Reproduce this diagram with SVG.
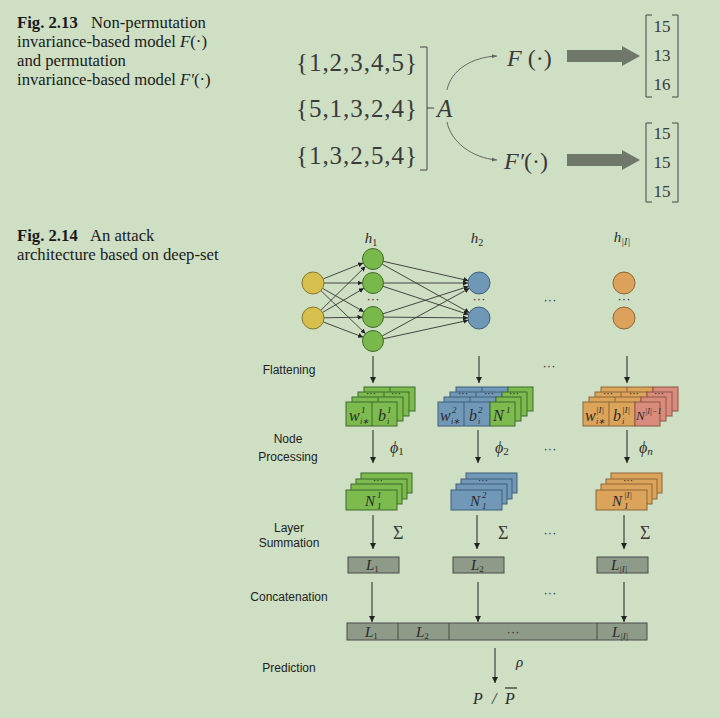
<svg xmlns="http://www.w3.org/2000/svg" width="720" height="718" viewBox="0 0 720 718">
<defs>
<marker id="ah" viewBox="0 0 10 10" refX="10" refY="5" markerWidth="5" markerHeight="5" orient="auto" markerUnits="userSpaceOnUse"><path d="M0,0 L10,5 L0,10 z" fill="#222"/></marker>
<marker id="av" viewBox="0 0 10 10" refX="10" refY="5" markerWidth="7" markerHeight="6" orient="auto" markerUnits="userSpaceOnUse"><path d="M0,0 L10,5 L0,10 z" fill="#222"/></marker>
<marker id="ac" viewBox="0 0 10 10" refX="10" refY="5" markerWidth="6" markerHeight="5" orient="auto" markerUnits="userSpaceOnUse"><path d="M0,1 L10,5 L0,9 z" fill="#666"/></marker>
</defs>
<style>
.cap{font-family:"Liberation Serif",serif;font-size:16.7px;fill:#1a1a1a}
.b{font-weight:bold}
.m{font-family:"Liberation Serif",serif;fill:#3a3a3a}
.i{font-style:italic}
.lab{font-family:"Liberation Sans",Arial,sans-serif;font-size:12px;fill:#222}
.e{stroke:#333;stroke-width:0.9;fill:none}
.v{stroke:#222;stroke-width:1;fill:none;marker-end:url(#av)}
.gc{fill:#79b94b;stroke:#3f6c2c;stroke-width:1}
.bc{fill:#6f98b6;stroke:#3d5f7b;stroke-width:1}
.oc{fill:#dca15a;stroke:#8b6636;stroke-width:1}
.yc{fill:#d6bf4c;stroke:#85772f;stroke-width:1}
.g{fill:#7dbb4f;stroke:#3e6b2c;stroke-width:1}
.bl{fill:#7199b7;stroke:#3e5f7a;stroke-width:1}
.o{fill:#dca35b;stroke:#8b6636;stroke-width:1}
.p{fill:#d98c7b;stroke:#8e5448;stroke-width:1}
.gr{fill:#8e9b88;stroke:#4a4a4a;stroke-width:1}
.t{font-family:"Liberation Serif",serif;font-style:italic;fill:#2a2a2a}
.dots{font-family:"Liberation Sans",sans-serif;font-size:10px;fill:#222}
.md{font-family:"Liberation Sans",sans-serif;font-size:13px;fill:#333}
.br{stroke:#444;stroke-width:1;fill:none}
</style>
<rect x="0" y="0" width="720" height="718" fill="#cedfc4"/>

<!-- Fig 2.13 caption -->
<g id="caption213">
<text class="cap" x="17" y="28"><tspan class="b">Fig. 2.13</tspan><tspan x="91">Non-permutation</tspan></text>
<text class="cap" x="17" y="47">invariance-based model <tspan font-style="italic">F</tspan>(·)</text>
<text class="cap" x="17" y="66">and permutation</text>
<text class="cap" x="17" y="85">invariance-based model <tspan font-style="italic">F′</tspan>(·)</text>
</g>

<!-- Fig 2.13 diagram -->
<g id="sets">
<text class="m" x="296" y="71" font-size="25" textLength="121">{1,2,3,4,5}</text>
<text class="m" x="296" y="117" font-size="25" textLength="121">{5,1,3,2,4}</text>
<text class="m" x="296" y="164" font-size="25" textLength="121">{1,3,2,5,4}</text>
<path class="br" d="M420,47 H427 V170 H420 M427,108 H434"/>
</g>
<g id="A"><text class="m i" x="437" y="117" font-size="25">A</text></g>
<g id="F"><text class="m" x="507" y="66" font-size="24"><tspan font-style="italic">F</tspan> (·)</text></g>
<g id="Fp"><text class="m" x="504" y="169" font-size="24"><tspan font-style="italic">F′</tspan>(·)</text></g>
<g id="mat1">
<path class="br" d="M652,15 H646 V97 H652 M672,15 H678 V97 H672"/>
<text class="m" x="662" y="32" font-size="17" text-anchor="middle">15</text>
<text class="m" x="662" y="61" font-size="17" text-anchor="middle">13</text>
<text class="m" x="662" y="90" font-size="17" text-anchor="middle">16</text>
</g>
<g id="mat2">
<path class="br" d="M652,123 H646 V202 H652 M672,123 H678 V202 H672"/>
<text class="m" x="662" y="139" font-size="17" text-anchor="middle">15</text>
<text class="m" x="662" y="168" font-size="17" text-anchor="middle">15</text>
<text class="m" x="662" y="197" font-size="17" text-anchor="middle">15</text>
</g>
<g id="connectors213">
<path d="M447,90 C451,70 472,57 497,56" stroke="#666" stroke-width="1" fill="none" marker-end="url(#ac)"/>
<path d="M447,122 C451,142 472,158 497,160" stroke="#666" stroke-width="1" fill="none" marker-end="url(#ac)"/>
<polygon points="567,50 622,50 622,46 640,56 622,66 622,62 567,62" fill="#6f786b"/>
<polygon points="567,154 622,154 622,150 640,160 622,170 622,166 567,166" fill="#6f786b"/>
</g>

<!-- Fig 2.14 caption -->
<g id="caption214">
<text class="cap" x="17" y="241"><tspan class="b">Fig. 2.14</tspan><tspan x="90">An attack</tspan></text>
<text class="cap" x="17" y="260">architecture based on deep-set</text>
</g>

<!-- row labels -->
<g id="rowlabels">
<text class="lab" x="289" y="374" text-anchor="middle">Flattening</text>
<text class="lab" x="288" y="443" text-anchor="middle">Node</text>
<text class="lab" x="288" y="461" text-anchor="middle">Processing</text>
<text class="lab" x="289" y="532" text-anchor="middle">Layer</text>
<text class="lab" x="289" y="547" text-anchor="middle">Summation</text>
<text class="lab" x="289" y="601" text-anchor="middle">Concatenation</text>
<text class="lab" x="289" y="672" text-anchor="middle">Prediction</text>
</g>

<!-- network connectors -->
<g id="netedges">
<line class="e" x1="323.2" y1="278.9" x2="363.2" y2="262.9" marker-end="url(#ah)"/>
<line class="e" x1="324" y1="283" x2="362.5" y2="283" marker-end="url(#ah)"/>
<line class="e" x1="322.6" y1="288.4" x2="363.9" y2="311.8" marker-end="url(#ah)"/>
<line class="e" x1="320.9" y1="290.6" x2="365.5" y2="333.7" marker-end="url(#ah)"/>
<line class="e" x1="320.8" y1="310.3" x2="365.5" y2="266.4" marker-end="url(#ah)"/>
<line class="e" x1="322.5" y1="312.5" x2="363.9" y2="288.3" marker-end="url(#ah)"/>
<line class="e" x1="324" y1="317.8" x2="362.5" y2="317.2" marker-end="url(#ah)"/>
<line class="e" x1="323.3" y1="322" x2="363.2" y2="337.2" marker-end="url(#ah)"/>
<line class="e" x1="383.2" y1="261.3" x2="468.3" y2="280.6" marker-end="url(#ah)"/>
<line class="e" x1="382.2" y1="264.1" x2="469.4" y2="312.7" marker-end="url(#ah)"/>
<line class="e" x1="383.5" y1="283" x2="468" y2="283" marker-end="url(#ah)"/>
<line class="e" x1="383" y1="286.3" x2="468.5" y2="314.5" marker-end="url(#ah)"/>
<line class="e" x1="383" y1="313.8" x2="468.5" y2="286.4" marker-end="url(#ah)"/>
<line class="e" x1="383.5" y1="317.1" x2="468" y2="317.9" marker-end="url(#ah)"/>
<line class="e" x1="382.2" y1="336" x2="469.4" y2="288.3" marker-end="url(#ah)"/>
<line class="e" x1="383.3" y1="338.8" x2="468.3" y2="320.3" marker-end="url(#ah)"/>
</g>

<!-- layers of network -->
<g id="input">
<circle class="yc" cx="313" cy="283" r="11"/>
<circle class="yc" cx="313" cy="318" r="11"/>
</g>
<g id="h1">
<text class="t" x="371" y="243" font-size="15" text-anchor="middle">h<tspan font-size="10" dy="3" font-style="normal">1</tspan></text>
<circle class="gc" cx="373" cy="259" r="10.5"/>
<circle class="gc" cx="373" cy="283" r="10.5"/>
<text class="md" x="373" y="303" text-anchor="middle">···</text>
<circle class="gc" cx="373" cy="317" r="10.5"/>
<circle class="gc" cx="373" cy="341" r="10.5"/>
</g>
<g id="h2">
<text class="t" x="477" y="243" font-size="15" text-anchor="middle">h<tspan font-size="10" dy="3" font-style="normal">2</tspan></text>
<circle class="bc" cx="479" cy="283" r="11"/>
<text class="md" x="479" y="303" text-anchor="middle">···</text>
<circle class="bc" cx="479" cy="318" r="11"/>
</g>
<g id="hI">
<text class="t" x="622" y="242" font-size="15" text-anchor="middle">h<tspan font-size="10" dy="3">|I|</tspan></text>
<circle class="oc" cx="624" cy="283" r="11"/>
<text class="md" x="624" y="303" text-anchor="middle">···</text>
<circle class="oc" cx="624" cy="318" r="11"/>
</g>
<g id="midDots">
<text class="md" x="550" y="304" text-anchor="middle">···</text>
<text class="md" x="549" y="370" text-anchor="middle">···</text>
<text class="md" x="550" y="453" text-anchor="middle">···</text>
<text class="md" x="550" y="537" text-anchor="middle">···</text>
<text class="md" x="550" y="597" text-anchor="middle">···</text>
</g>

<!-- vertical arrows -->
<g id="arrows">
<line class="v" x1="373" y1="356" x2="373" y2="383"/>
<line class="v" x1="479" y1="356" x2="479" y2="383"/>
<line class="v" x1="627" y1="356" x2="627" y2="383"/>
<line class="v" x1="373" y1="430" x2="373" y2="463"/>
<line class="v" x1="478" y1="430" x2="478" y2="463"/>
<line class="v" x1="627" y1="430" x2="627" y2="463"/>
<line class="v" x1="373" y1="515" x2="373" y2="549"/>
<line class="v" x1="477" y1="515" x2="477" y2="549"/>
<line class="v" x1="624" y1="515" x2="624" y2="549"/>
<line class="v" x1="372" y1="582" x2="372" y2="622"/>
<line class="v" x1="478" y1="582" x2="478" y2="622"/>
<line class="v" x1="624" y1="582" x2="624" y2="622"/>
<line class="v" x1="495" y1="648" x2="495" y2="683"/>
</g>
<g id="oplabels">
<text class="t" x="390" y="453" font-size="16">ϕ<tspan font-size="11" font-style="normal" dy="2">1</tspan></text>
<text class="t" x="495" y="453" font-size="16">ϕ<tspan font-size="11" font-style="normal" dy="2">2</tspan></text>
<text class="t" x="639" y="453" font-size="16">ϕ<tspan font-size="11" dy="2">n</tspan></text>
<text class="m" x="393" y="539" font-size="18">Σ</text>
<text class="m" x="498" y="539" font-size="18">Σ</text>
<text class="m" x="640" y="539" font-size="18">Σ</text>
<text class="t" x="516" y="667" font-size="15">ρ</text>
</g>

<!-- Flattening stacks -->
<g id="flat1">
<rect class="g" x="364" y="387" width="51" height="24"/><line class="g" x1="390" y1="387" x2="390" y2="411"/>
<rect class="g" x="358" y="392" width="51" height="24"/><line class="g" x1="384" y1="392" x2="384" y2="416"/>
<text class="dots" x="371" y="397" text-anchor="middle">···</text><text class="dots" x="396" y="397" text-anchor="middle">···</text>
<rect class="g" x="352" y="397" width="51" height="24"/><line class="g" x1="378" y1="397" x2="378" y2="421"/>
<rect class="g" x="346" y="402" width="51" height="24"/><line class="g" x1="372" y1="402" x2="372" y2="426"/>
<text class="t" x="349" y="421" font-size="16">w</text><text class="t" x="361" y="413" font-size="9" font-style="normal">1</text><text class="t" x="360" y="424" font-size="8">i∗</text>
<text class="t" x="378" y="421" font-size="16">b</text><text class="t" x="387" y="413" font-size="9" font-style="normal">1</text><text class="t" x="387" y="424" font-size="8">i</text>
</g>
<g id="flat2">
<rect class="bl" x="456" y="387" width="52" height="24"/><rect class="g" x="508" y="387" width="25" height="24"/><line class="bl" x1="482" y1="387" x2="482" y2="411"/>
<rect class="bl" x="450" y="392" width="52" height="24"/><rect class="g" x="502" y="392" width="25" height="24"/><line class="bl" x1="476" y1="392" x2="476" y2="416"/>
<text class="dots" x="463" y="397" text-anchor="middle">···</text><text class="dots" x="489" y="397" text-anchor="middle">···</text><text class="dots" x="514" y="397" text-anchor="middle">···</text>
<rect class="bl" x="444" y="397" width="52" height="24"/><rect class="g" x="496" y="397" width="25" height="24"/><line class="bl" x1="470" y1="397" x2="470" y2="421"/>
<rect class="bl" x="438" y="402" width="52" height="24"/><rect class="g" x="490" y="402" width="25" height="24"/><line class="bl" x1="464" y1="402" x2="464" y2="426"/>
<text class="t" x="440" y="421" font-size="16">w</text><text class="t" x="452" y="413" font-size="9" font-style="normal">2</text><text class="t" x="451" y="424" font-size="8">i∗</text>
<text class="t" x="469" y="421" font-size="16">b</text><text class="t" x="478" y="413" font-size="9" font-style="normal">2</text><text class="t" x="478" y="424" font-size="8">i</text>
<text class="t" x="493" y="421" font-size="16">N</text><text class="t" x="506" y="413" font-size="9" font-style="normal">1</text>
</g>
<g id="flatI">
<rect class="o" x="601" y="387" width="52" height="24"/><rect class="p" x="653" y="387" width="25" height="24"/><line class="o" x1="627" y1="387" x2="627" y2="411"/>
<rect class="o" x="595" y="392" width="52" height="24"/><rect class="p" x="647" y="392" width="25" height="24"/><line class="o" x1="621" y1="392" x2="621" y2="416"/>
<text class="dots" x="608" y="397" text-anchor="middle">···</text><text class="dots" x="634" y="397" text-anchor="middle">···</text><text class="dots" x="659" y="397" text-anchor="middle">···</text>
<rect class="o" x="589" y="397" width="52" height="24"/><rect class="p" x="641" y="397" width="25" height="24"/><line class="o" x1="615" y1="397" x2="615" y2="421"/>
<rect class="o" x="583" y="402" width="52" height="24"/><rect class="p" x="635" y="402" width="25" height="24"/><line class="o" x1="609" y1="402" x2="609" y2="426"/>
<text class="t" x="585" y="421" font-size="16">w</text><text class="t" x="596" y="413" font-size="9">|I|</text><text class="t" x="596" y="424" font-size="8">i∗</text>
<text class="t" x="613" y="421" font-size="16">b</text><text class="t" x="622" y="413" font-size="9">|I|</text><text class="t" x="622" y="424" font-size="8">i</text>
<text class="t" x="636" y="420" font-size="13">N</text><text class="t" x="645" y="414" font-size="8">|I|−1</text>
</g>

<!-- Node processing stacks -->
<g id="node1">
<rect class="g" x="361" y="473" width="51" height="20"/>
<rect class="g" x="356" y="479" width="51" height="20"/>
<text class="dots" x="378" y="484" text-anchor="middle">···</text>
<rect class="g" x="351" y="484" width="51" height="20"/>
<rect class="g" x="346" y="490" width="51" height="20"/>
<text class="t" x="365" y="506" font-size="15">N</text><text class="t" x="377" y="498" font-size="9" font-style="normal">1</text><text class="t" x="377" y="509" font-size="9" font-style="normal">1</text>
</g>
<g id="node2">
<rect class="bl" x="466" y="473" width="51" height="20"/>
<rect class="bl" x="461" y="479" width="51" height="20"/>
<text class="dots" x="483" y="484" text-anchor="middle">···</text>
<rect class="bl" x="456" y="484" width="51" height="20"/>
<rect class="bl" x="451" y="490" width="51" height="20"/>
<text class="t" x="470" y="506" font-size="15">N</text><text class="t" x="482" y="498" font-size="9" font-style="normal">2</text><text class="t" x="482" y="509" font-size="9" font-style="normal">1</text>
</g>
<g id="nodeI">
<rect class="o" x="611" y="473" width="51" height="20"/>
<rect class="o" x="606" y="479" width="51" height="20"/>
<text class="dots" x="628" y="484" text-anchor="middle">···</text>
<rect class="o" x="601" y="484" width="51" height="20"/>
<rect class="o" x="596" y="490" width="51" height="20"/>
<text class="t" x="612" y="506" font-size="15">N</text><text class="t" x="624" y="498" font-size="9">|I|</text><text class="t" x="624" y="509" font-size="9" font-style="normal">1</text>
</g>

<!-- Layer sums -->
<g id="L1"><rect class="gr" x="348" y="557" width="51" height="16"/><text class="t" x="366" y="570" font-size="15">L<tspan font-size="9" font-style="normal" dy="2">1</tspan></text></g>
<g id="L2"><rect class="gr" x="453" y="557" width="51" height="16"/><text class="t" x="471" y="570" font-size="15">L<tspan font-size="9" font-style="normal" dy="2">2</tspan></text></g>
<g id="LI"><rect class="gr" x="597" y="557" width="51" height="16"/><text class="t" x="611" y="570" font-size="15">L<tspan font-size="9" dy="2">|I|</tspan></text></g>

<!-- Concatenated bar -->
<g id="concat">
<rect class="gr" x="347" y="623" width="300" height="17"/>
<line class="gr" x1="398" y1="623" x2="398" y2="640"/>
<line class="gr" x1="449" y1="623" x2="449" y2="640"/>
<line class="gr" x1="597" y1="623" x2="597" y2="640"/>
<text class="t" x="365" y="637" font-size="15">L<tspan font-size="9" font-style="normal" dy="2">1</tspan></text>
<text class="t" x="416" y="637" font-size="15">L<tspan font-size="9" font-style="normal" dy="2">2</tspan></text>
<text class="md" x="513" y="636" text-anchor="middle">···</text>
<text class="t" x="612" y="637" font-size="15">L<tspan font-size="9" dy="2">|I|</tspan></text>
</g>

<!-- Prediction -->
<g id="pred">
<text class="t" x="473" y="704" font-size="16">P</text>
<text class="t" x="492" y="704" font-size="16">/</text>
<text class="t" x="505" y="704" font-size="16">P</text>
<line x1="505" y1="688" x2="517" y2="688" stroke="#2a2a2a" stroke-width="1.2"/>
</g>
</svg>
